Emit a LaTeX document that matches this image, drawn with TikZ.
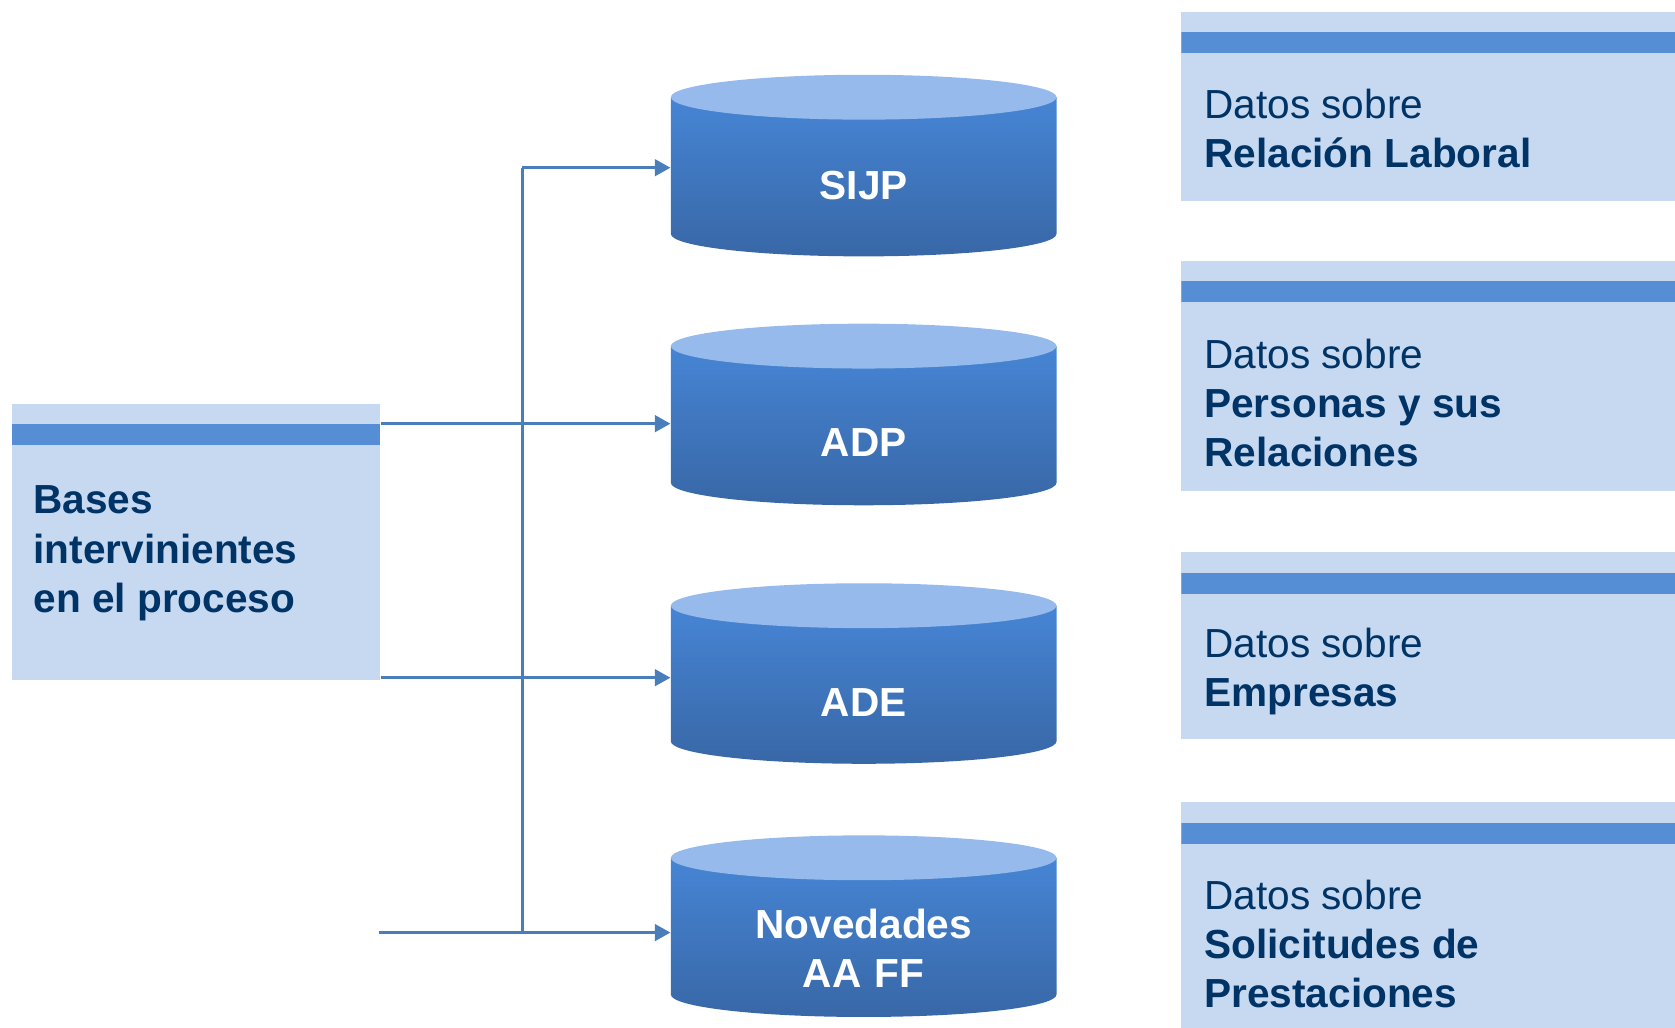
\documentclass[tikz,border=0pt]{standalone}
\usepackage{fontspec}
\setmainfont{Liberation Sans}
\usetikzlibrary{arrows.meta}

\definecolor{fondocaja}{RGB}{198,217,241}
\definecolor{franja}{RGB}{85,142,213}
\definecolor{azultexto}{RGB}{0,51,102}
\definecolor{azulflecha}{RGB}{74,126,187}
\definecolor{cyltapa}{RGB}{149,186,235}
\definecolor{cylalto}{RGB}{70,133,213}
\definecolor{cylbajo}{RGB}{56,103,166}

\tikzset{
  caja/.style={fill=fondocaja, inner sep=0pt,
    path picture={\fill[franja] ([yshift=-9.5pt]path picture bounding box.north west)
      rectangle ([yshift=-19.5pt]path picture bounding box.north east);}},
  texto/.style={text=azultexto, align=left, anchor=west, inner sep=0pt,
    font=\fontsize{19}{23}\selectfont},
  base/.style={text=white, align=center, inner sep=0pt, minimum width=180.5pt,
    font=\fontsize{19}{23}\selectfont\bfseries},
  linea/.style={draw=azulflecha, line width=1.2pt},
  flecha/.style={linea, -{Triangle[length=7.3pt,width=7.8pt]}},
  cuerpo/.style={top color=cylalto, bottom color=cylbajo},
}

\begin{document}
\begin{tikzpicture}[x=0.5pt,y=0.5pt]
\useasboundingbox (0,0) rectangle (1568,-962);

%Bases
\shade[cuerpo] (628,-91) -- (628,-219) arc[start angle=180,end angle=360,x radius=180.5,y radius=21] -- (989,-91) -- cycle;
\fill[cyltapa] (808.5,-91) ellipse[x radius=180.5,y radius=21];
\node[base, text width=176pt] (sijp) at (808.5,-174) {SIJP};

\shade[cuerpo] (628,-324) -- (628,-452) arc[start angle=180,end angle=360,x radius=180.5,y radius=21] -- (989,-324) -- cycle;
\fill[cyltapa] (808.5,-324) ellipse[x radius=180.5,y radius=21];
\node[base, text width=176pt] (adp) at (808.5,-414) {ADP};

\shade[cuerpo] (628,-567) -- (628,-694) arc[start angle=180,end angle=360,x radius=180.5,y radius=21] -- (989,-567) -- cycle;
\fill[cyltapa] (808.5,-567) ellipse[x radius=180.5,y radius=21];
\node[base, text width=176pt] (ade) at (808.5,-658) {ADE};

\shade[cuerpo] (628,-803) -- (628,-931) arc[start angle=180,end angle=360,x radius=180.5,y radius=21] -- (989,-803) -- cycle;
\fill[cyltapa] (808.5,-803) ellipse[x radius=180.5,y radius=21];
\node[base, text width=176pt] (nov) at (808.5,-888) {Novedades\\AA FF};

%Cajas
\node[caja, minimum width=172.5pt, minimum height=129.5pt] (bases) at (183.5,-507.5) {};
\node[texto, font=\fontsize{19}{23}\selectfont\bfseries] (bases-txt) at (31,-518) {Bases\\intervinientes\\en el proceso};

\node[caja, minimum width=231pt, minimum height=88.5pt] (relacion) at (1337,-99.5) {};
\node[texto] (relacion-txt) at (1127,-120) {Datos sobre\\\textbf{Relación Laboral}};

\node[caja, minimum width=231pt, minimum height=108pt] (personas) at (1337,-352) {};
\node[texto] (personas-txt) at (1127,-377) {Datos sobre\\\textbf{Personas y sus}\\\textbf{Relaciones}};

\node[caja, minimum width=231pt, minimum height=87.5pt] (empresas) at (1337,-604.5) {};
\node[texto] (empresas-txt) at (1127,-629) {Datos sobre\\\textbf{Empresas}};

\node[caja, minimum width=231pt, minimum height=105.5pt] (prestaciones) at (1337,-856.5) {};
\node[texto] (prestaciones-txt) at (1127,-884) {Datos sobre\\\textbf{Solicitudes de}\\\textbf{Prestaciones}};

%Flechas
\coordinate (bus) at (489,-157);
\coordinate (nov-src) at (355,-873);
\draw[linea] (bus) -- (bus |- nov-src);
\draw[flecha] (bus) -- (bus -| sijp.west);
\draw[flecha] ([yshift=-9.5pt]bases.north east) -- ([yshift=-9.5pt]bases.north east -| adp.west);
\draw[flecha] ([yshift=1.5pt]bases.south east) -- ([yshift=1.5pt]bases.south east -| ade.west);
\draw[flecha] (nov-src) -- (nov-src -| nov.west);

\end{tikzpicture}
\end{document}
